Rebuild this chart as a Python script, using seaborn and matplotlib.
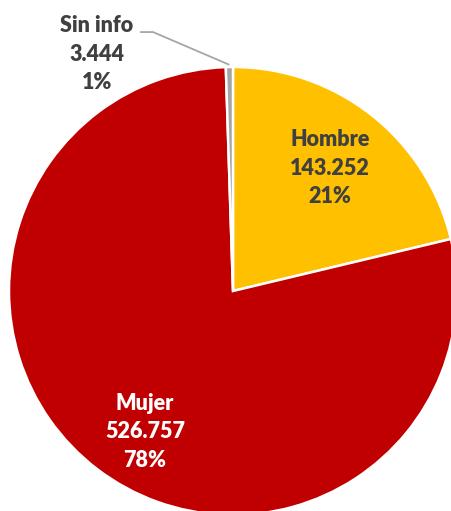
import numpy as np
import matplotlib
matplotlib.use("Agg")
import matplotlib.pyplot as plt
import seaborn as sns

sns.set_theme(style="white")
plt.rcParams["font.family"] = ["Lato", "DejaVu Sans"]

categorias = ["Hombre", "Mujer", "Sin info"]
valores = [143252, 526757, 3444]
etiquetas = ["143.252", "526.757", "3.444"]
colores = ["#FFC000", "#C00000", "#A5A5A5"]

total = sum(valores)
porcentajes = [f"{round(v / total * 100)}%" for v in valores]

fig = plt.figure(figsize=(4.51, 5.11), dpi=100)
ax = fig.add_axes([0, 0, 1, 1])

wedges, _ = ax.pie(valores, colors=colores, startangle=90, counterclock=False,
                   radius=1.0, wedgeprops=dict(edgecolor="white", linewidth=1.8))

# pie center / radius in pixels, to place the (cropped) pie like the original
r_px = 224
cx, cy = 233, 291
ax.set_xlim(-cx / r_px, (451 - cx) / r_px)
ax.set_ylim(-(511 - cy) / r_px, cy / r_px)
ax.set_aspect("auto")
ax.axis("off")

# label positions (data units, pie radius = 1)
pos = {"Hombre": (0.433, 0.549), "Mujer": (-0.393, -0.628), "Sin info": (-0.607, 1.058)}
txt_col = {"Hombre": "#404040", "Mujer": "white", "Sin info": "#404040"}

for cat, val, pct in zip(categorias, etiquetas, porcentajes):
    x, y = pos[cat]
    ax.text(x, y, f"{cat}\n{val}\n{pct}", ha="center", va="center",
            fontsize=15.5, fontweight="heavy", color=txt_col[cat], linespacing=1.45)

# leader line for Sin info
w = wedges[2]
ang = np.deg2rad((w.theta1 + w.theta2) / 2)
ax.plot([-0.415, -0.357, np.cos(ang) * 1.01], [1.156, 1.156, np.sin(ang) * 1.01],
        color="#A6A6A6", linewidth=1.3, solid_capstyle="butt")

fig.savefig("out.png", dpi=100)
